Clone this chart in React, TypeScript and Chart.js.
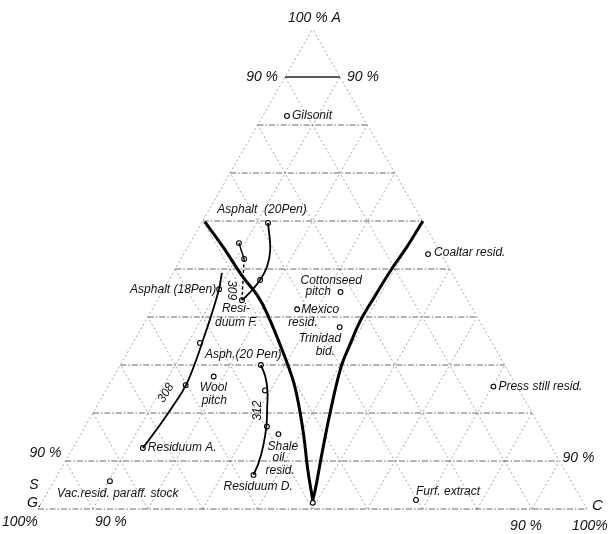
import React, { useEffect, useRef } from "react";
import { Chart, registerables } from "chart.js";
Chart.register(...registerables);

// ---- Data (ternary: A = top component %, C = right component %) ----
const gridLevels = [0, 10, 20, 30, 40, 50, 60, 70, 80, 90];

const sampleNames = ["Gilsonit", "Coaltar resid.", "Cottonseed pitch", "Mexico resid.", "Trinidad bid.", "Press still resid.", "Furf. extract", "Vac. resid. paraff. stock", "Wool pitch", "Shale oil resid."];
const sampleA = [81.9, 53.1, 45.2, 41.6, 37.9, 25.5, 1.9, 5.8, 27.6, 15.6];
const sampleC = [4.4, 44.5, 32.5, 26.4, 36.0, 70.2, 67.9, 10.2, 18.2, 36.0];

// bold boundary curves
const leftBoundA = [59.8, 54.6, 48.3, 44.6, 40.8, 31.7, 25.4, 16.5, 8.1, 2.5, 1.9];
const leftBoundC = [0.5, 6.4, 13.2, 17.6, 21.3, 29.1, 34.1, 40.0, 45.1, 48.7, 49.1];
const rightBoundA = [60.0, 54.6, 49.8, 44.4, 39.4, 34.2, 29.6, 20.0, 11.7, 4.0, 1.9];
const rightBoundC = [40.1, 39.9, 39.4, 39.2, 39.1, 39.7, 40.4, 43.2, 45.9, 48.5, 49.1];

// Asphalt (20Pen) -> Residuum F
const pen20A = [59.6, 54.0, 50.4, 47.7, 45.6, 43.5];
const pen20C = [12.1, 15.3, 16.5, 16.6, 16.2, 15.4];

// series 309
const s309SolidA = [55.4, 52.1];
const s309SolidC = [8.9, 11.5];
const s309DashA = [52.1, 43.5];
const s309DashC = [11.5, 15.4];

// series 308 (Residuum A -> Asphalt 18Pen)
const s308A = [12.7, 17.5, 22.1, 25.8, 31.0, 35.2, 39.4, 43.5, 45.8, 49.2];
const s308C = [12.75, 13.45, 13.9, 14.05, 13.3, 12.45, 11.6, 10.65, 10.07, 8.9];
const s308MarksA = [12.7, 25.8, 34.6, 45.8];
const s308MarksC = [12.75, 14.0, 12.2, 10.1];

// series 312 (Asph 20Pen -> Residuum D)
const s312A = [30.0, 27.6, 24.8, 21.3, 17.2, 13.0, 9.5, 7.1];
const s312C = [25.6, 27.6, 29.4, 31.1, 33.0, 34.5, 35.4, 35.7];
const s312MarksA = [30.0, 24.7, 17.2, 7.1];
const s312MarksC = [25.6, 29.0, 33.1, 35.7];

const otherMarksA = [59.6, 47.7, 43.5, 55.4, 52.1, 1.3];
const otherMarksC = [12.1, 16.6, 15.4, 8.9, 11.5, 49.4];

const tern = (a: number, c: number) => ({ x: c + a / 2, y: a });
const toPts = (A: number[], C: number[]) => A.map((a, i) => tern(a, C[i]));

// ---- annotations (text, anchored on ternary coords, pixel offsets) ----
type Lab = { t: string; a: number; c: number; dx: number; dy: number; al?: CanvasTextAlign; rot?: number; size?: number };
const labels: Lab[] = [
  { t: "100 % A", a: 100, c: 0, dx: 2, dy: -11, al: "center", size: 14 },
  { t: "90 %", a: 90, c: 0, dx: -7, dy: 0, al: "right", size: 14 },
  { t: "90 %", a: 90, c: 10, dx: 7, dy: 0, al: "left", size: 14 },
  { t: "90 %", a: 10, c: 0, dx: -4, dy: -8, al: "right", size: 14 },
  { t: "S", a: 0, c: 0, dx: -4, dy: -24, al: "center", size: 14 },
  { t: "G.", a: 0, c: 0, dx: -11, dy: -6, al: "left", size: 14 },
  { t: "100%", a: 0, c: 0, dx: -36, dy: 13, al: "left", size: 14 },
  { t: "90 %", a: 0, c: 10, dx: 2, dy: 13, al: "left", size: 14 },
  { t: "90 %", a: 10, c: 90, dx: 3, dy: -3, al: "left", size: 14 },
  { t: "C", a: 0, c: 100, dx: 5, dy: -3, al: "left", size: 15 },
  { t: "90 %", a: 0, c: 90, dx: -22, dy: 17, al: "left", size: 14 },
  { t: "100%", a: 0, c: 100, dx: -15, dy: 17, al: "left", size: 14 },

  { t: "Gilsonit", a: sampleA[0], c: sampleC[0], dx: 5, dy: 0 },
  { t: "Coaltar resid.", a: sampleA[1], c: sampleC[1], dx: 6, dy: -1 },
  { t: "Cottonseed", a: sampleA[2], c: sampleC[2], dx: -40, dy: -11 },
  { t: "pitch", a: sampleA[2], c: sampleC[2], dx: -35, dy: 0 },
  { t: "Mexico", a: sampleA[3], c: sampleC[3], dx: 4, dy: 0 },
  { t: "resid.", a: sampleA[3], c: sampleC[3], dx: -9, dy: 13 },
  { t: "Trinidad", a: sampleA[4], c: sampleC[4], dx: -41, dy: 12 },
  { t: "bid.", a: sampleA[4], c: sampleC[4], dx: -24, dy: 25 },
  { t: "Press still resid.", a: sampleA[5], c: sampleC[5], dx: 5, dy: 0 },
  { t: "Furf. extract", a: sampleA[6], c: sampleC[6], dx: 0, dy: -8 },
  { t: "Vac.resid. paraff. stock", a: sampleA[7], c: sampleC[7], dx: -53, dy: 12 },
  { t: "Wool", a: sampleA[8], c: sampleC[8], dx: -14, dy: 11 },
  { t: "pitch", a: sampleA[8], c: sampleC[8], dx: -12, dy: 24 },
  { t: "Shale", a: sampleA[9], c: sampleC[9], dx: -11, dy: 13 },
  { t: "oil", a: sampleA[9], c: sampleC[9], dx: -6, dy: 24 },
  { t: "resid.", a: sampleA[9], c: sampleC[9], dx: -13, dy: 37 },

  { t: "Asphalt  (20Pen)", a: pen20A[0], c: pen20C[0], dx: -6, dy: -13, al: "center" },
  { t: "Resi-", a: 43.5, c: 15.4, dx: -20, dy: 8 },
  { t: "duum F.", a: 43.5, c: 15.4, dx: -27, dy: 22 },
  { t: "Asphalt (18Pen)", a: 45.8, c: 10.1, dx: -3, dy: 0, al: "right" },
  { t: "Residuum A.", a: 12.7, c: 12.75, dx: 5, dy: 0 },
  { t: "Asph.(20 Pen)", a: 30.0, c: 25.6, dx: -56, dy: -10 },
  { t: "Residuum D.", a: 7.1, c: 35.7, dx: -30, dy: 12 },
  { t: "309", a: 43.5, c: 15.4, dx: -11, dy: -10, al: "center", rot: 90 },
  { t: "308", a: 25.0, c: 13.0, dx: -12, dy: 4, al: "center", rot: -58 },
  { t: "312", a: 20.5, c: 31.5, dx: -10, dy: 0, al: "center", rot: -90 },
];

const gridPlugin = {
  id: "ternGrid",
  beforeDatasetsDraw(chart: any) {
    const { ctx, scales } = chart;
    const xs = scales.x, ys = scales.y;
    const P = (a: number, c: number) => [xs.getPixelForValue(c + a / 2), ys.getPixelForValue(a)];
    const seg = (p: number[], q: number[]) => {
      ctx.beginPath();
      ctx.moveTo(p[0], p[1]);
      ctx.lineTo(q[0], q[1]);
      ctx.stroke();
    };
    ctx.save();
    ctx.strokeStyle = "#8f8f8f";
    ctx.lineWidth = 0.8;
    ctx.setLineDash([2, 2.5]);
    gridLevels.forEach((k) => {
      seg(P(0, k), P(100 - k, k));
      seg(P(0, 100 - k), P(100 - k, 0));
    });
    ctx.strokeStyle = "#555";
    ctx.lineWidth = 0.9;
    ctx.setLineDash([6, 2, 1.5, 2]);
    gridLevels.forEach((k) => {
      if (k === 90) return;
      seg(P(k, 0), P(k, 100 - k));
    });
    ctx.setLineDash([]);
    ctx.strokeStyle = "#222";
    ctx.lineWidth = 1.6;
    seg(P(90, 0), P(90, 10));
    ctx.restore();
  },
};

const labelPlugin = {
  id: "ternLabels",
  afterDatasetsDraw(chart: any) {
    const { ctx, scales } = chart;
    const xs = scales.x, ys = scales.y;
    ctx.save();
    ctx.fillStyle = "#111";
    ctx.textBaseline = "middle";
    labels.forEach((l) => {
      const px = xs.getPixelForValue(l.c + l.a / 2) + l.dx;
      const py = ys.getPixelForValue(l.a) + l.dy;
      ctx.font = `italic ${l.size || 12}px "Liberation Sans", Arial, sans-serif`;
      ctx.textAlign = l.al || "left";
      if (l.rot) {
        ctx.save();
        ctx.translate(px, py);
        ctx.rotate((l.rot * Math.PI) / 180);
        ctx.fillText(l.t, 0, 0);
        ctx.restore();
      } else {
        ctx.fillText(l.t, px, py);
      }
    });
    ctx.restore();
  },
};

export default function App() {
  const ref = useRef<HTMLCanvasElement | null>(null);
  useEffect(() => {
    if (!ref.current) return;
    const line = (data: any[], w: number, dash: number[] = []) => ({
      data,
      showLine: true,
      borderColor: "#000",
      borderWidth: w,
      borderDash: dash,
      pointRadius: 0,
      tension: 0.4,
      fill: false,
      clip: false,
    });
    const marks = [
      ...toPts(sampleA, sampleC),
      ...toPts(s308MarksA, s308MarksC),
      ...toPts(s312MarksA, s312MarksC),
      ...toPts(otherMarksA, otherMarksC),
    ];
    const chart = new Chart(ref.current, {
      type: "scatter",
      data: {
        datasets: [
          line(toPts(leftBoundA, leftBoundC), 3),
          line(toPts(rightBoundA, rightBoundC), 3),
          line(toPts(pen20A, pen20C), 1.8),
          { ...line(toPts(s309SolidA, s309SolidC), 1.4), tension: 0 },
          { ...line(toPts(s309DashA, s309DashC), 1.4, [3, 2.5]), tension: 0 },
          line(toPts(s308A, s308C), 1.8),
          line(toPts(s312A, s312C), 1.8),
          {
            data: marks,
            showLine: false,
            pointRadius: 2.4,
            pointBorderWidth: 1.1,
            pointBackgroundColor: "#fff",
            pointBorderColor: "#000",
            clip: false,
          } as any,
        ],
      },
      options: {
        animation: false,
        responsive: true,
        maintainAspectRatio: false,
        layout: { padding: { left: 38, right: 24, top: 29, bottom: 25 } },
        scales: {
          x: { type: "linear", min: 0, max: 100, display: false },
          y: { type: "linear", min: 0, max: 100, display: false },
        },
        plugins: { legend: { display: false }, tooltip: { enabled: false } },
        events: [],
      },
      plugins: [gridPlugin, labelPlugin],
    } as any);
    return () => chart.destroy();
  }, []);
  return (
    <div style={{ position: "absolute", left: 0, top: 0, width: 611, height: 534, background: "#fff" }}>
      <canvas ref={ref} />
    </div>
  );
}
